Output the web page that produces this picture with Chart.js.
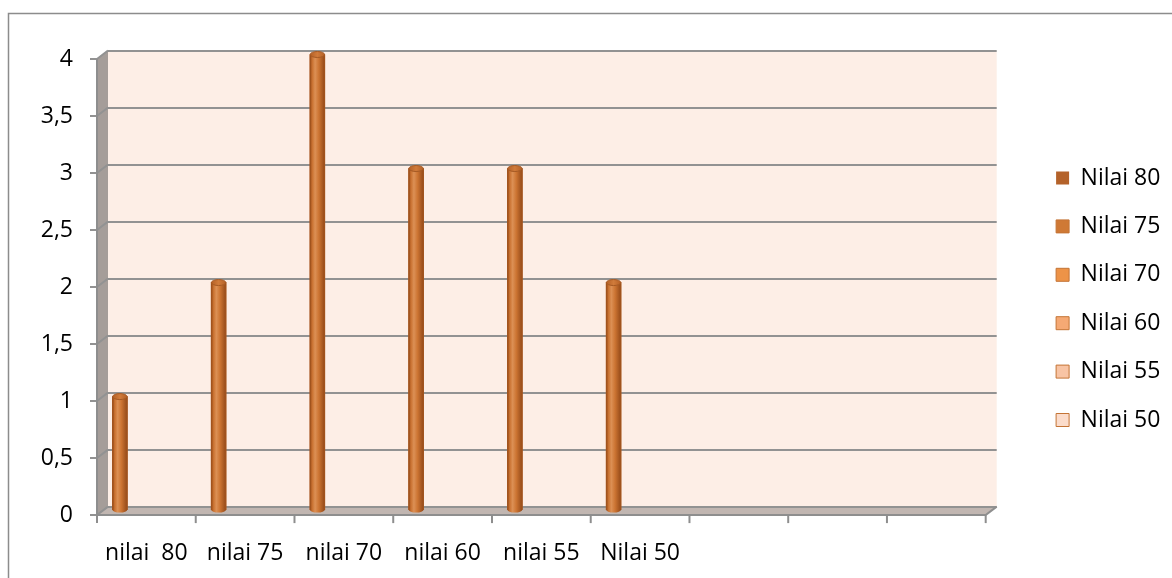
<!DOCTYPE html>
<html>
<head>
<meta charset="utf-8">
<script src="https://cdn.jsdelivr.net/npm/chart.js@4/dist/chart.umd.min.js"></script>
<style>
  html, body { margin: 0; padding: 0; background: #ffffff; }
  canvas { display: block; }
</style>
</head>
<body>
<canvas id="chart" width="1172" height="578"></canvas>
<script>
// Categories along the floor (the last three slots are empty)
const categories = ['nilai  80', 'nilai 75', 'nilai 70', 'nilai 60', 'nilai 55', 'Nilai 50', '', '', ''];
// Column heights, all carried by the first series
const values = [1, 2, 4, 3, 3, 2, null, null, null];
// Legend series and their swatch colours
const seriesNames = ['Nilai 80', 'Nilai 75', 'Nilai 70', 'Nilai 60', 'Nilai 55', 'Nilai 50'];
const seriesColors = ['#b4622a', '#cf7935', '#ed9347', '#f5a974', '#f8c4a4', '#fbdccb'];
// Value axis range
const yMin = 0, yMax = 4, yStep = 0.5;

const DEPTH_X = 11;    // horizontal offset from the back wall to the front plane
const DEPTH_Y = 8.5;   // vertical offset from the back wall to the front plane
const BAR_DROP = 4;    // columns stand halfway between back wall and front edge
const LEGEND_SHIFT = 34;
const FONT_FAMILY = '"Open Sans", "DejaVu Sans", sans-serif';
const FONT_SIZE = 23;

// Walls, floor, frame and front tick marks of the 3-D box
const box3d = {
  id: 'box3d',
  beforeDraw(chart) {
    const { ctx, chartArea: a } = chart;
    ctx.save();
    ctx.strokeStyle = '#8c8c8c';
    ctx.lineWidth = 1.5;
    ctx.strokeRect(8.5, 13.5, chart.width + 40, chart.height + 40);

    ctx.fillStyle = '#fdeee6';
    ctx.fillRect(a.left, a.top, a.right - a.left, a.bottom - a.top);

    // side wall
    ctx.fillStyle = '#a59d99';
    ctx.beginPath();
    ctx.moveTo(a.left - DEPTH_X, a.top + DEPTH_Y);
    ctx.lineTo(a.left, a.top);
    ctx.lineTo(a.left, a.bottom);
    ctx.lineTo(a.left - DEPTH_X, a.bottom + DEPTH_Y);
    ctx.closePath();
    ctx.fill();

    // floor
    ctx.fillStyle = '#c1b6b1';
    ctx.beginPath();
    ctx.moveTo(a.left - DEPTH_X, a.bottom + DEPTH_Y);
    ctx.lineTo(a.left, a.bottom);
    ctx.lineTo(a.right, a.bottom);
    ctx.lineTo(a.right - DEPTH_X, a.bottom + DEPTH_Y);
    ctx.closePath();
    ctx.fill();
    ctx.restore();
  },
  beforeDatasetsDraw(chart) {
    const { ctx, chartArea: a, scales } = chart;
    const y = scales.y, x = scales.x;
    ctx.save();
    ctx.strokeStyle = '#929292';
    ctx.lineWidth = 2;
    ctx.lineCap = 'butt';

    // gridlines continued across the side wall, plus value ticks
    y.ticks.forEach((t) => {
      const py = y.getPixelForValue(t.value);
      ctx.beginPath();
      ctx.moveTo(a.left - DEPTH_X - 7, py + DEPTH_Y);
      ctx.lineTo(a.left - DEPTH_X, py + DEPTH_Y);
      ctx.lineTo(a.left, py);
      ctx.stroke();
    });

    // front edges of side wall and floor
    ctx.strokeStyle = '#8e8e8e';
    ctx.beginPath();
    ctx.moveTo(a.left - DEPTH_X, a.top + DEPTH_Y);
    ctx.lineTo(a.left - DEPTH_X, a.bottom + DEPTH_Y);
    ctx.lineTo(a.right - DEPTH_X, a.bottom + DEPTH_Y);
    ctx.lineTo(a.right, a.bottom);
    ctx.stroke();

    // category boundary ticks on the front edge
    const n = categories.length;
    const slot = (x.right - x.left) / n;
    for (let i = 0; i <= n; i++) {
      const px = x.left + i * slot - DEPTH_X;
      ctx.beginPath();
      ctx.moveTo(px, a.bottom + DEPTH_Y);
      ctx.lineTo(px, a.bottom + DEPTH_Y + 8);
      ctx.stroke();
    }
    ctx.restore();
  }
};

// Shade each column of the first series as a cylinder
const cylinders = {
  id: 'cylinders',
  afterDatasetsDraw(chart) {
    const ctx = chart.ctx;
    const meta = chart.getDatasetMeta(0);
    ctx.save();
    meta.data.forEach((bar, i) => {
      if (values[i] == null) return;
      const { x, y, base, width } = bar.getProps(['x', 'y', 'base', 'width'], true);
      const rx = width / 2, ry = 3;
      const l = x - rx, r = x + rx;
      const top = y + BAR_DROP, bot = base + BAR_DROP;

      const g = ctx.createLinearGradient(l, 0, r, 0);
      g.addColorStop(0, '#94491a');
      g.addColorStop(0.15, '#c8702f');
      g.addColorStop(0.35, '#dc9055');
      g.addColorStop(0.6, '#cc7432');
      g.addColorStop(1, '#924818');

      ctx.fillStyle = g;
      ctx.beginPath();
      ctx.moveTo(l, top);
      ctx.lineTo(l, bot);
      ctx.ellipse(x, bot, rx, ry, 0, Math.PI, 0, true);
      ctx.lineTo(r, top);
      ctx.closePath();
      ctx.fill();

      ctx.strokeStyle = '#a2541e';
      ctx.lineWidth = 1;
      ctx.beginPath();
      ctx.moveTo(l + 0.5, top);
      ctx.lineTo(l + 0.5, bot);
      ctx.moveTo(r - 0.5, top);
      ctx.lineTo(r - 0.5, bot);
      ctx.stroke();

      // top cap
      const gc = ctx.createLinearGradient(l, 0, r, 0);
      gc.addColorStop(0, '#b45f25');
      gc.addColorStop(0.5, '#d07b3b');
      gc.addColorStop(1, '#b45f25');
      ctx.fillStyle = gc;
      ctx.beginPath();
      ctx.ellipse(x, top, rx - 0.3, ry, 0, 0, Math.PI * 2);
      ctx.fill();
      ctx.strokeStyle = '#a65a24';
      ctx.stroke();
    });
    ctx.restore();
  }
};

// Columns are drawn a little lower than the back-wall scale (mid-depth)
const dropBars = {
  id: 'dropBars',
  beforeDatasetDraw(chart) { chart.ctx.save(); chart.ctx.translate(0, BAR_DROP); },
  afterDatasetDraw(chart) { chart.ctx.restore(); }
};

// Keep the legend clear of the floor's right corner
const legendGap = {
  id: 'legendGap',
  afterLayout(chart) {
    if (chart.legend) {
      chart.legend.left += LEGEND_SHIFT;
      chart.legend.right += LEGEND_SHIFT;
    }
  }
};

const datasets = seriesNames.map((name, k) => ({
  label: name,
  data: k === 0 ? values : [],
  backgroundColor: seriesColors[k],
  borderColor: k === 0 ? '#a9581f' : '#c47436',
  borderWidth: (c) => (c.type === 'data' ? 0 : 1),
  barThickness: 15
}));

new Chart(document.getElementById('chart'), {
  type: 'bar',
  data: { labels: categories, datasets },
  plugins: [box3d, dropBars, cylinders, legendGap],
  options: {
    responsive: false,
    animation: false,
    devicePixelRatio: 1,
    layout: { padding: { top: 33, bottom: 13, left: 0, right: 3 } },
    plugins: {
      legend: {
        position: 'right',
        labels: {
          boxWidth: 13,
          boxHeight: 13,
          padding: 25.4,
          color: '#000000',
          font: { family: FONT_FAMILY, size: FONT_SIZE }
        }
      },
      tooltip: { enabled: false },
      title: { display: false }
    },
    scales: {
      x: {
        offset: true,
        grid: { display: false, drawTicks: false },
        border: { display: false },
        ticks: {
          autoSkip: false,
          maxRotation: 0,
          padding: 33,
          labelOffset: -DEPTH_X,
          color: '#000000',
          font: { family: FONT_FAMILY, size: FONT_SIZE }
        },
        afterFit(scale) {
          scale.height = 58.4;
        }
      },
      y: {
        min: yMin,
        max: yMax,
        grid: { color: '#929292', lineWidth: 2, drawTicks: false },
        border: { display: false },
        ticks: {
          stepSize: yStep,
          padding: 35,
          labelOffset: DEPTH_Y,
          color: '#000000',
          font: { family: FONT_FAMILY, size: FONT_SIZE },
          callback: (v) => String(v).replace('.', ',')
        },
        afterFit(scale) {
          scale.width = 108;
          scale.paddingTop = 50.5;
          scale.paddingRight = 175.3;
        }
      }
    }
  }
});
</script>
</body>
</html>
